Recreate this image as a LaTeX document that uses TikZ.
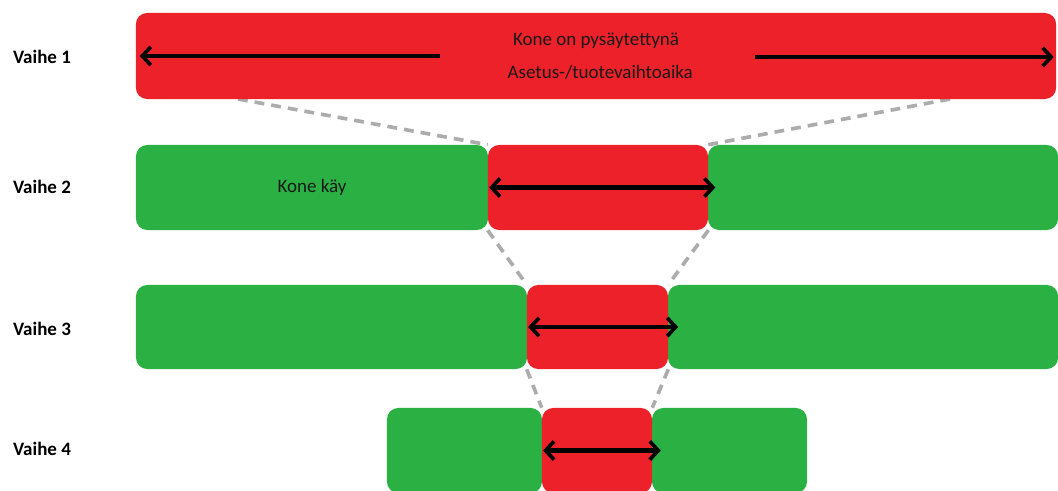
\documentclass[tikz,border=0pt]{standalone}
\usepackage{fontspec}
\setmainfont{Carlito}
\usepackage{tikz}
\usetikzlibrary{arrows.meta, positioning, backgrounds}
\definecolor{stopred}{RGB}{236,33,41}
\definecolor{rungreen}{RGB}{43,176,67}
\definecolor{guidegray}{RGB}{172,172,172}
\definecolor{textdark}{RGB}{25,25,25}

\begin{document}
\begin{tikzpicture}[x=0.025cm, y=0.025cm,
  every node/.style={font=\fontsize{13.5}{16}\selectfont, text=textdark},
  bar/.style={rectangle, rounded corners=8pt, draw=none, inner sep=0pt,
              align=center},
  stopbar/.style={bar, fill=stopred},
  runbar/.style={bar, fill=rungreen},
  phase/.style={font=\fontsize{13.5}{16}\selectfont\bfseries, text=black},
  tip/.style={Straight Barb[length=6pt,width=13pt,line width=2.6pt]},
  arr/.style={{Straight Barb[length=6pt,width=13pt,line width=2.6pt]}-{Straight Barb[length=6pt,width=13pt,line width=2.6pt]},
              line width=3.4pt, black},
  larr/.style={-{Straight Barb[length=6pt,width=13pt,line width=2.6pt]},
              line width=3.4pt, black},
  guide/.style={guidegray, line width=2.6pt, dash pattern=on 7pt off 5pt},
]
\useasboundingbox (0,0) rectangle (1058,-491);

% phase labels
\node[phase] (v1) at (42,-57)  {Vaihe 1};
\node[phase] (v2) at (42,-187) {Vaihe 2};
\node[phase] (v3) at (42,-329) {Vaihe 3};
\node[phase] (v4) at (42,-449) {Vaihe 4};

% phase 1
\node[stopbar, minimum width=23cm, minimum height=2.15cm] (r1) at (596,-56)
  {Kone on pysäytettynä\\[7pt] \hspace*{6pt}Asetus-/tuotevaihtoaika};

% phase 2
\node[runbar, minimum width=8.8cm, minimum height=2.125cm] (g2a) at (312,-187.5) {Kone käy};
\node[runbar, minimum width=8.75cm, minimum height=2.125cm] (g2b) at (883,-187.5) {};
\node[stopbar, minimum width=5.5cm, minimum height=2.125cm] (r2) at (598,-187.5) {};

% phase 3
\node[runbar, minimum width=9.775cm, minimum height=2.1cm] (g3a) at (331.5,-327) {};
\node[runbar, minimum width=9.75cm, minimum height=2.1cm] (g3b) at (863,-327) {};
\node[stopbar, minimum width=3.525cm, minimum height=2.1cm] (r3) at (597.5,-327) {};

% phase 4
\node[runbar, minimum width=3.875cm, minimum height=2.125cm] (g4a) at (464.5,-450.5) {};
\node[runbar, minimum width=3.875cm, minimum height=2.125cm] (g4b) at (729.5,-450.5) {};
\node[stopbar, minimum width=2.75cm, minimum height=2.125cm] (r4) at (597,-450.5) {};

\coordinate (z1l) at (238,-99);
\coordinate (z1r) at (950,-99);
\coordinate (a1l) at (440,-56);
\coordinate (a1r) at (755,-57);

% guide lines
\begin{scope}[on background layer]
\draw[guide] (z1l) -- (r2.north west);
\draw[guide] (z1r) -- (r2.north east);
\draw[guide] (r2.south west) -- (r3.north west);
\draw[guide] (r2.south east) -- (r3.north east);
\draw[guide] (r3.south west) -- (r4.north west);
\draw[guide] (r3.south east) -- (r4.north east);
\end{scope}

% arrows
\draw[larr] (a1l) -- ([xshift=3pt]r1.west);
\draw[larr] (a1r) -- ([xshift=-2pt]r1.east |- a1r);
\draw[arr] ([xshift=1pt]r2.west) -- ([xshift=5pt]r2.east);
\draw[arr] ([xshift=1pt]r3.west) -- ([xshift=7pt]r3.east);
\draw[arr] ([xshift=1pt]r4.west) -- ([xshift=6pt]r4.east);

\end{tikzpicture}
\end{document}
